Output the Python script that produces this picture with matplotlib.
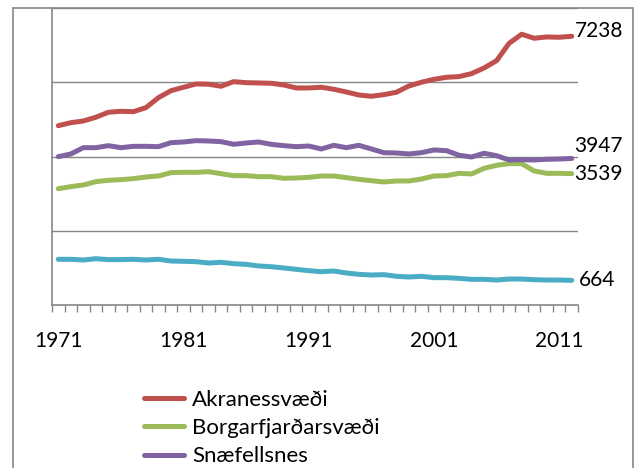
import matplotlib
matplotlib.use("Agg")
import matplotlib.pyplot as plt
from matplotlib.patches import Rectangle

plt.rcParams['font.family'] = ['Lato', 'DejaVu Sans']

years = list(range(1971, 2013))

akranes = [4830, 4911, 4957, 5057, 5191, 5218, 5208, 5316, 5585, 5773,
           5865, 5954, 5946, 5892, 6016, 5989, 5981, 5972, 5927, 5846,
           5846, 5865, 5811, 5738, 5657, 5622, 5666, 5730, 5900, 6000,
           6080, 6134, 6152, 6232, 6385, 6582, 7050, 7293, 7185, 7220,
           7212, 7238]
borgarfjordur = [3133, 3187, 3233, 3322, 3359, 3376, 3403, 3448, 3475, 3565,
                 3574, 3574, 3591, 3537, 3484, 3484, 3457, 3457, 3413, 3421,
                 3439, 3475, 3475, 3430, 3386, 3349, 3314, 3341, 3341, 3394,
                 3475, 3484, 3547, 3529, 3682, 3763, 3807, 3807, 3610, 3547,
                 3547, 3539]
snaefellsnes = [3996, 4068, 4238, 4238, 4292, 4238, 4274, 4274, 4265, 4373,
                4391, 4427, 4418, 4400, 4328, 4364, 4391, 4328, 4292, 4265,
                4283, 4203, 4301, 4238, 4301, 4203, 4103, 4095, 4068, 4103,
                4176, 4157, 4033, 3987, 4087, 4022, 3906, 3914, 3906, 3925,
                3933, 3947]
dalir = [1231, 1231, 1212, 1247, 1222, 1222, 1231, 1212, 1231, 1185,
         1177, 1167, 1131, 1150, 1113, 1095, 1051, 1032, 997, 961,
         924, 897, 916, 862, 826, 808, 817, 773, 754, 773,
         736, 736, 718, 691, 691, 673, 700, 700, 682, 673,
         673, 664]

names = ["Akranessvæði", "Borgarfjarðarsvæði", "Snæfellsnes", "Dalir"]
series = [akranes, borgarfjordur, snaefellsnes, dalir]
colors = ["#C0504D", "#9BBB59", "#8064A2", "#4BACC6"]
# label offsets (points) for the end values
offsets = [(2, 4), (2, 0), (2, 9), (5, 0)]

grey = "#868686"

fig = plt.figure(figsize=(6.39, 4.68), dpi=100)
fig.patches.append(Rectangle((13 / 639, -0.1), 620 / 639, 1.1 - 8 / 468,
                             transform=fig.transFigure, fill=False,
                             edgecolor=grey, linewidth=1.2))

ax = fig.add_axes([52 / 639, 163 / 468, 526 / 639, 297 / 468])
x = list(range(len(years)))
lines = []
for name, vals, col in zip(names, series, colors):
    ln, = ax.plot(x, vals, color=col, linewidth=3.6, solid_capstyle="round",
                  solid_joinstyle="round", label=name)
    lines.append(ln)

for vals, (dx, dy) in zip(series, offsets):
    ax.annotate(str(vals[-1]), xy=(x[-1], vals[-1]), xytext=(dx, dy),
                textcoords="offset points", ha="left", va="center",
                fontsize=15, annotation_clip=False)

ax.set_xlim(-0.5, len(years) - 0.5)
ax.set_ylim(0, 8000)
ax.set_yticks([2000, 4000, 6000, 8000])
ax.yaxis.grid(True, color=grey, linewidth=1)
ax.set_yticklabels([])
ax.tick_params(axis="y", length=0)

ax.set_xticks([0, 10, 20, 30, 40])
ax.set_xticklabels([str(years[i]) for i in [0, 10, 20, 30, 40]], fontsize=15)
ax.set_xticks([i - 0.5 for i in range(len(years) + 1)], minor=True)
ax.tick_params(axis="x", which="major", length=0, pad=19)
ax.tick_params(axis="x", which="minor", length=5, color=grey, width=1)

for s in ["top", "right"]:
    ax.spines[s].set_visible(False)
for s in ["left", "bottom"]:
    ax.spines[s].set_color(grey)
    ax.spines[s].set_linewidth(1.2)

# only the first three legend entries fit in the picture
fig.legend(handles=lines[:3], loc="upper left",
           bbox_to_anchor=(144 / 639, 1 - 390 / 468),
           frameon=False, fontsize=16, handlelength=1.8, handletextpad=0.36,
           labelspacing=0.37, borderaxespad=0, borderpad=0)

fig.savefig("out.png", dpi=100)
